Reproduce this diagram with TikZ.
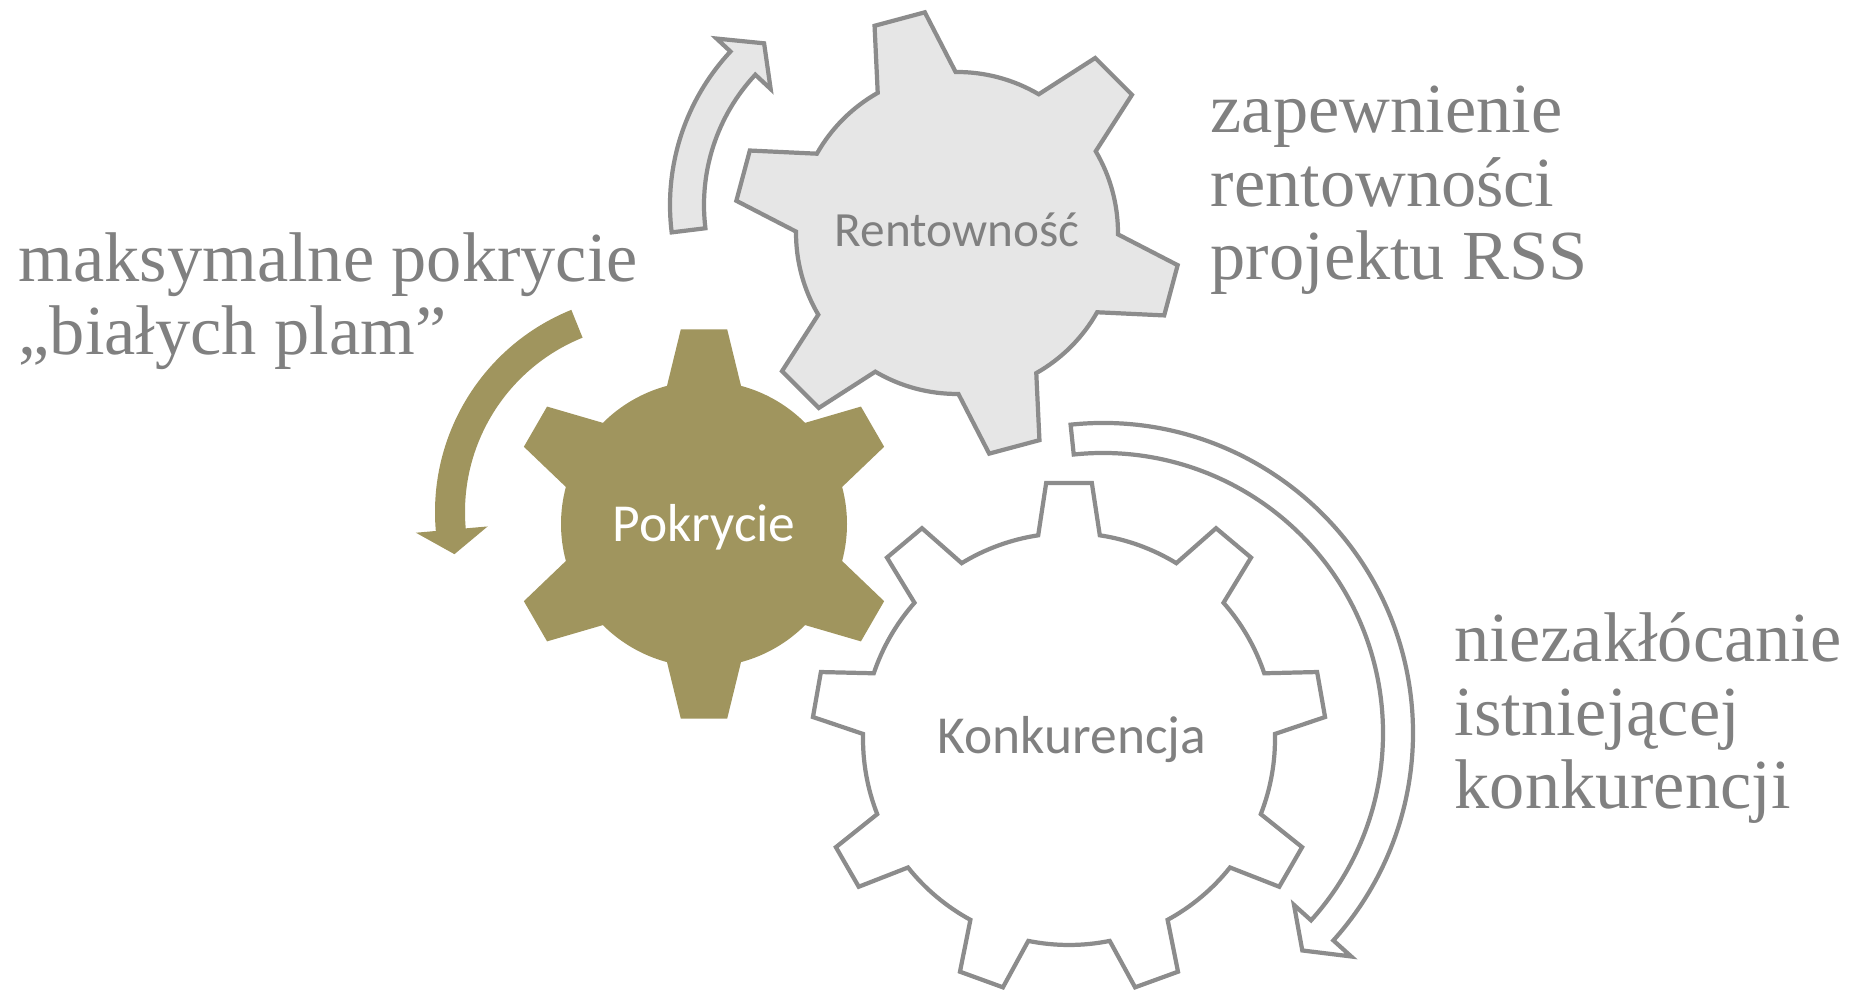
\documentclass[tikz,border=0pt]{standalone}
\usepackage{fontspec}
\setmainfont{Liberation Serif}
\newfontfamily\gearfont{Carlito}
\usepackage{tikz}

\definecolor{gearolive}{RGB}{160,149,94}
\definecolor{gearfill}{RGB}{230,230,230}
\definecolor{gearline}{RGB}{140,140,140}
\definecolor{notegray}{RGB}{128,128,128}

% #1 style, #2 centre, #3 first tooth, #4 teeth, #5 root r, #6 tip r, #7 tip half angle, #8 flank half angle
\newcommand{\gear}[8]{%
  \pgfmathsetmacro{\gstep}{360/#4}%
  \pgfmathsetmacro{\gsecond}{#3+\gstep}%
  \pgfmathsetmacro{\glast}{#3+360-\gstep/2}%
  \path[#1, shift={#2}] ({#3-#8}:#5)
    \foreach \ang in {#3,\gsecond,...,\glast} {
      -- ({\ang-#7}:#6) -- ({\ang+#7}:#6) -- ({\ang+#8}:#5)
      arc[start angle={\ang+#8}, end angle={\ang+\gstep-#8}, radius=#5]
    } -- cycle;%
}

\begin{document}
\begin{tikzpicture}[x=0.01cm, y=0.01cm,
    olivegear/.style={fill=gearolive, draw=none},
    graygear/.style={fill=gearfill, draw=gearline, line width=1.2pt},
    whitegear/.style={fill=white, draw=gearline, line width=1.2pt},
    note/.style={anchor=base west, align=left, inner sep=0pt, text=notegray,
      font=\fontsize{20}{21}\selectfont},
    gearlabel/.style={anchor=base, font=\gearfont}]
  \useasboundingbox (0,0) rectangle (1857,992);

  % gears
  \gear{olivegear}{(704,468)}{90}{6}{143}{196}{6.8}{15}
  \gear{graygear}{(957,759)}{45}{6}{161}{223}{6.7}{14.5}
  \gear{whitegear}{(1069,253)}{90}{9}{206}{257}{5.1}{8.6}

  \node[gearlabel, text=white, font=\gearfont\fontsize{15.2}{18}\selectfont] (pokrycie) at (704,450) {Pokrycie};
  \node[gearlabel, text=notegray, font=\gearfont\fontsize{14}{17}\selectfont] (rentownosc) at (957,745) {Rentowność};
  \node[gearlabel, text=notegray, font=\gearfont\fontsize{15.2}{18}\selectfont] (konkurencja) at (1072,238) {Konkurencja};

  % turning arrows
  \begin{scope}[shift={(653,480)}]
    \path[olivegear] (112:188) -- (112:218) arc[start angle=112, end angle=185, radius=218]
      -- (185:238) -- (192:203) -- (185:166) -- (185:188)
      arc[start angle=185, end angle=112, radius=188] -- cycle;
  \end{scope}
  \begin{scope}[shift={(895,787)}]
    \path[graygear] (187:191) -- (187:225) arc[start angle=187, end angle=137, radius=225]
      -- (137:244) -- (129:208) -- (137:170) -- (137:191)
      arc[start angle=137, end angle=187, radius=191] -- cycle;
  \end{scope}
  \begin{scope}[shift={(1103,259)}]
    \path[whitegear] (96:280) -- (96:310) arc[start angle=96, end angle=-42, radius=310]
      -- (-42:334) -- (-47.5:295) -- (-42:257) -- (-42:280)
      arc[start angle=-42, end angle=96, radius=280] -- cycle;
  \end{scope}

  % notes (anchored at the last line)
  \node[note] (notepokrycie) at (18,637) {maksymalne pokrycie\\„białych plam”};
  \node[note] (noterentownosc) at (1210,712) {zapewnienie\\rentowności\\projektu RSS};
  \node[note] (notekonkurencja) at (1454,183) {niezakłócanie\\istniejącej\\konkurencji};
\end{tikzpicture}
\end{document}
